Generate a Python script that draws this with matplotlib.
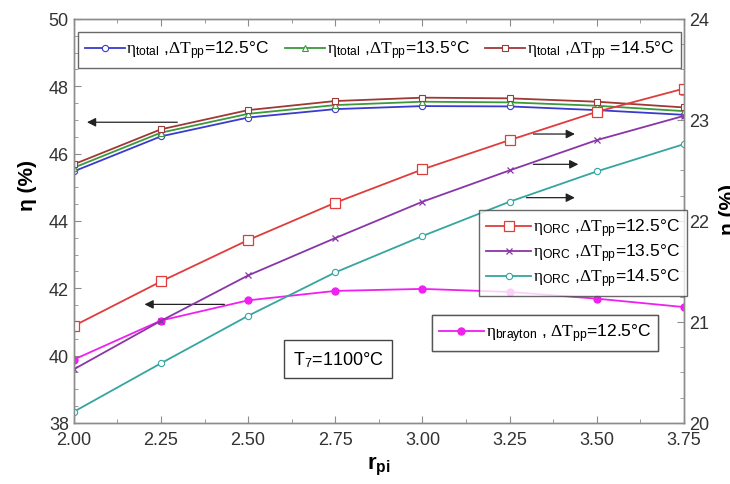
import numpy as np
import matplotlib
matplotlib.use("Agg")
import matplotlib.pyplot as plt
from matplotlib.ticker import MultipleLocator

plt.rcParams['font.family'] = ['Liberation Sans', 'DejaVu Sans']
plt.rcParams['mathtext.fontset'] = 'custom'
plt.rcParams['mathtext.rm'] = 'Liberation Serif'
plt.rcParams['mathtext.it'] = 'Liberation Serif:italic'
plt.rcParams['mathtext.sf'] = 'Liberation Sans'
plt.rcParams['mathtext.bf'] = 'Liberation Sans:bold'

# pressure ratio
r_pi = [2.00, 2.25, 2.50, 2.75, 3.00, 3.25, 3.50, 3.75]

# total efficiency (left axis, %)
eta_total_125 = [45.47, 46.51, 47.07, 47.32, 47.41, 47.40, 47.29, 47.15]
eta_total_135 = [45.58, 46.62, 47.18, 47.44, 47.54, 47.52, 47.42, 47.26]
eta_total_145 = [45.68, 46.72, 47.29, 47.56, 47.66, 47.64, 47.54, 47.37]

# brayton efficiency (left axis, %)
eta_brayton_125 = [39.88, 41.04, 41.64, 41.92, 41.98, 41.89, 41.69, 41.44]

# ORC efficiency (right axis, %)
eta_orc_125 = [20.96, 21.40, 21.81, 22.18, 22.51, 22.80, 23.08, 23.31]
eta_orc_135 = [20.53, 21.01, 21.46, 21.83, 22.19, 22.50, 22.80, 23.04]
eta_orc_145 = [20.11, 20.59, 21.06, 21.49, 21.85, 22.19, 22.49, 22.76]


def lab(sub, dt, sep=''):
    return (r'$\mathrm{\eta}_{\mathsf{%s}}$ ,$\mathrm{\Delta T}_{\mathsf{pp}}$%s=%s°C'
            % (sub, sep, dt))


def main():
    fig = plt.figure(figsize=(7.3, 4.85), dpi=100)
    ax = fig.add_axes([0.101, 0.126, 0.836, 0.833])
    ax2 = ax.twinx()

    lw = 1.3
    h1, = ax.plot(r_pi, eta_total_125, color='#3a3ad0', lw=lw, marker='o', ms=4.5,
                  mfc='white', mew=0.8, label=lab('total', '12.5'))
    h2, = ax.plot(r_pi, eta_total_135, color='#3a9a3a', lw=lw, marker='^', ms=4.5,
                  mfc='white', mew=0.8, label=lab('total', '13.5'))
    h3, = ax.plot(r_pi, eta_total_145, color='#a03838', lw=lw, marker='s', ms=4.5,
                  mfc='white', mew=0.8, label=lab('total', '14.5', ' '))
    hb, = ax.plot(r_pi, eta_brayton_125, color='#f020f0', lw=lw, marker='o', ms=5,
                  label=r'$\mathrm{\eta}_{\mathsf{brayton}}$ , '
                        r'$\mathrm{\Delta T}_{\mathsf{pp}}$=12.5°C')

    o1, = ax2.plot(r_pi, eta_orc_125, color='#e03c3c', lw=lw, marker='s', ms=6.5,
                   mfc='white', mew=0.9, label=lab('ORC', '12.5'))
    o2, = ax2.plot(r_pi, eta_orc_135, color='#8a35a8', lw=lw, marker='x', ms=5,
                   mew=0.9, label=lab('ORC', '13.5'))
    o3, = ax2.plot(r_pi, eta_orc_145, color='#35a5a0', lw=lw, marker='o', ms=4.5,
                   mfc='white', mew=0.8, label=lab('ORC', '14.5'))

    ax.set_xlim(2.0, 3.75)
    ax.set_ylim(38, 50)
    ax2.set_ylim(20, 24)

    ax.xaxis.set_major_locator(MultipleLocator(0.25))
    ax.xaxis.set_minor_locator(MultipleLocator(0.125))
    ax.yaxis.set_major_locator(MultipleLocator(2))
    ax.yaxis.set_minor_locator(MultipleLocator(0.5))
    ax2.yaxis.set_major_locator(MultipleLocator(1))
    ax2.yaxis.set_minor_locator(MultipleLocator(0.25))
    ax.xaxis.set_major_formatter(plt.FormatStrFormatter('%.2f'))

    for a in (ax, ax2):
        for s in a.spines.values():
            s.set_color('#8c8c8c')
            s.set_linewidth(1.0)
    ax.tick_params(axis='x', which='both', direction='in', top=True, colors='#8c8c8c',
                   labelcolor='#333333', labelsize=13, pad=6)
    ax.tick_params(axis='y', which='both', direction='in', colors='#8c8c8c',
                   labelcolor='#333333', labelsize=13)
    ax2.tick_params(axis='y', which='both', direction='in', colors='#8c8c8c',
                    labelcolor='#333333', labelsize=13)
    for a in (ax, ax2):
        a.tick_params(which='major', length=5)
        a.tick_params(which='minor', length=3)

    ax.set_xlabel(r'$\mathbf{r}_{\mathbf{pi}}$', fontsize=16, labelpad=4)
    ax.set_ylabel('η (%)', fontsize=15, fontweight='bold')
    ax.yaxis.set_label_coords(-0.06, 0.59)
    # right-hand label runs past the figure edge
    ax2.set_ylabel('η (%)', fontsize=15, fontweight='bold', rotation=90)
    ax2.yaxis.set_label_coords(1.058, 0.53)

    # arrows pointing to the axis each curve belongs to
    arrow = dict(arrowstyle='-|>', color='#222222', lw=0.9, mutation_scale=13)
    ax.annotate('', xy=(2.03, 46.93), xytext=(2.305, 46.93), arrowprops=arrow)
    ax.annotate('', xy=(2.195, 41.52), xytext=(2.44, 41.52), arrowprops=arrow)
    ax2.annotate('', xy=(3.445, 22.86), xytext=(3.31, 22.86), arrowprops=arrow)
    ax2.annotate('', xy=(3.455, 22.56), xytext=(3.31, 22.56), arrowprops=arrow)
    ax2.annotate('', xy=(3.445, 22.23), xytext=(3.29, 22.23), arrowprops=arrow)

    leg_kw = dict(fontsize=12.5, frameon=True, fancybox=False, borderaxespad=0,
                  handletextpad=0.1, labelspacing=0.15,
                  borderpad=0.4, edgecolor='#444444')
    leg1 = ax2.legend(handles=[h1, h2, h3], loc='upper left', ncol=3, handlelength=2.3,
                      bbox_to_anchor=(0.0066, 0.968), columnspacing=0.9, **leg_kw)
    leg2 = ax2.legend(handles=[o1, o2, o3], loc='upper right', handlelength=2.6,
                      bbox_to_anchor=(1.005, 0.527), **leg_kw)
    leg3 = ax2.legend(handles=[hb], loc='upper left', handlelength=2.6,
                      bbox_to_anchor=(0.587, 0.267), **leg_kw)
    for lg in (leg1, leg2, leg3):
        lg.get_frame().set_linewidth(1.0)
        ax2.add_artist(lg)

    ax.text(0.433, 0.158, r'T$_{\mathsf{7}}$=1100°C', transform=ax.transAxes, fontsize=13,
            ha='center', va='center',
            bbox=dict(boxstyle='square,pad=0.5', fc='white', ec='#444444', lw=1.0))

    fig.savefig('out.png', dpi=100)


if __name__ == '__main__':
    main()
